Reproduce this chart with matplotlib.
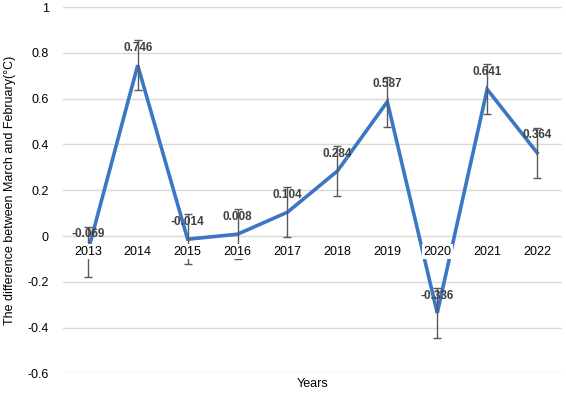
import matplotlib
matplotlib.use("Agg")
import matplotlib.pyplot as plt
from matplotlib.ticker import FuncFormatter

plt.rcParams['font.family'] = ['Liberation Sans', 'DejaVu Sans']

years = ['2013', '2014', '2015', '2016', '2017', '2018', '2019', '2020', '2021', '2022']
values = [-0.069, 0.746, -0.014, 0.008, 0.104, 0.284, 0.587, -0.336, 0.641, 0.364]
errors = [0.11, 0.11, 0.11, 0.11, 0.11, 0.11, 0.11, 0.11, 0.11, 0.11]
yticks = [-0.6, -0.4, -0.2, 0, 0.2, 0.4, 0.6, 0.8, 1]

fig = plt.figure(figsize=(5.66, 3.98), dpi=100)
ax = fig.add_axes([0.111, 0.062, 0.882, 0.920])

x = list(range(len(years)))
ax.plot(x, values, color='#3b77c4', lw=2.6, zorder=2, solid_joinstyle='miter')
ax.errorbar(x, values, yerr=errors, fmt='none', ecolor='#595959', elinewidth=1,
            capsize=3, capthick=1, zorder=3)

for xi, v in zip(x, values):
    ax.annotate(f'{v:.3f}', (xi, v), xytext=(0, 12.5), textcoords='offset points',
                ha='center', va='center', fontsize=8.5, fontweight='bold', color='#404040',
                zorder=4)

ax.set_xlim(-0.5, len(years) - 0.5)
ax.set_ylim(-0.6, 1.0)
ax.set_yticks(yticks)
ax.yaxis.set_major_formatter(FuncFormatter(lambda v, p: f'{v:g}'))
ax.set_xticks(x)
ax.set_xticklabels(years)

ax.grid(axis='y', color='#d9d9d9', lw=1)
ax.set_axisbelow(True)
for s in ax.spines.values():
    s.set_visible(False)
ax.spines['bottom'].set_position(('data', 0))
ax.tick_params(axis='both', length=0, labelsize=9)
ax.tick_params(axis='y', pad=10)
ax.tick_params(axis='x', pad=7)
ax.xaxis.set_zorder(5)
for lbl in ax.get_xticklabels():
    lbl.set_bbox(dict(facecolor='white', edgecolor='none', pad=1.0))

ax.set_ylabel('The difference between March and February(°C)', fontsize=9, labelpad=8)
ax.set_xlabel('Years', fontsize=9)
ax.xaxis.set_label_coords(0.5, -0.012)

fig.savefig('out.png', dpi=100)
